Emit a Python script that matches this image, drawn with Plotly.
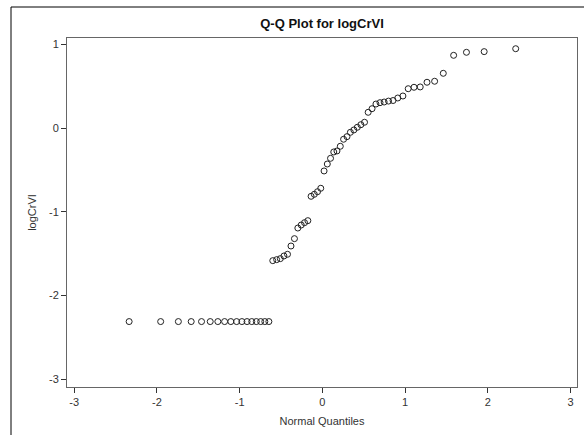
import plotly.graph_objects as go

# Normal quantiles (x) and sorted logCrVI values (y)
normal_quantiles = [
    -2.336, -1.955, -1.741, -1.586, -1.461, -1.356, -1.264, -1.182, -1.107, -1.037,
    -0.973, -0.911, -0.854, -0.799, -0.746, -0.696, -0.647,
    -0.600, -0.553, -0.509, -0.465, -0.422, -0.380, -0.338, -0.297, -0.256, -0.216,
    -0.176, -0.137, -0.098, -0.059, -0.020,
    0.020, 0.059, 0.098, 0.137, 0.176, 0.216, 0.256, 0.297, 0.338, 0.380,
    0.422, 0.465, 0.509, 0.553, 0.600, 0.647, 0.696, 0.746, 0.799, 0.854,
    0.911, 0.973, 1.037, 1.107, 1.182, 1.264, 1.356, 1.461, 1.586, 1.741,
    1.955, 2.336,
]
log_crvi = [
    -2.31, -2.31, -2.31, -2.31, -2.31, -2.31, -2.31, -2.31, -2.31, -2.31,
    -2.31, -2.31, -2.31, -2.31, -2.31, -2.31, -2.31,
    -1.582, -1.570, -1.558, -1.526, -1.506, -1.407, -1.319, -1.192, -1.156, -1.128,
    -1.104, -0.813, -0.789, -0.758, -0.717,
    -0.510, -0.427, -0.359, -0.283, -0.271, -0.215, -0.131, -0.100, -0.048, -0.020,
    0.012, 0.043, 0.072, 0.191, 0.234, 0.290, 0.306, 0.314, 0.325, 0.332,
    0.362, 0.386, 0.473, 0.490, 0.494, 0.550, 0.562, 0.657, 0.872, 0.908,
    0.916, 0.951,
]

x_tick_vals = [-3, -2, -1, 0, 1, 2, 3]
x_tick_text = ["-3", "-2", "-1", "0", "1", "2", "3"]
y_tick_vals = [-3, -2, -1, 0, 1]
y_tick_text = ["-3", "-2", "-1", "0", "1"]

title_text = "Q-Q Plot for logCrVI"
x_title = "Normal Quantiles"
y_title = "logCrVI"

FONT = "Liberation Sans, Arial, sans-serif"

fig = go.Figure()
fig.add_trace(go.Scatter(
    x=normal_quantiles, y=log_crvi, mode="markers",
    marker=dict(symbol="circle-open", size=6, color="#222222", line=dict(width=1, color="#222222")),
    showlegend=False, hoverinfo="x+y",
))

axis_common = dict(
    showgrid=False, zeroline=False, showline=True, mirror=True,
    linecolor="#666666", linewidth=1,
    ticks="outside", ticklen=5, tickwidth=1, tickcolor="#333333",
    tickfont=dict(family=FONT, size=11, color="#333333"),
)

fig.update_layout(
    width=584, height=435,
    margin=dict(l=67, r=7, t=38, b=48),
    paper_bgcolor="white", plot_bgcolor="white",
    font=dict(family=FONT, size=11, color="#333333"),
    title=dict(text="<b>" + title_text + "</b>", x=(67 + 255) / 584, xanchor="center",
               y=1 - 23 / 435, yanchor="middle",
               font=dict(family=FONT, size=13, color="#111111")),
    xaxis=dict(range=[-3.087, 3.077], tickvals=x_tick_vals, ticktext=x_tick_text,
               title=dict(text=x_title, standoff=10, font=dict(family=FONT, size=11, color="#333333")),
               **axis_common),
    yaxis=dict(range=[-3.092, 1.079], tickvals=y_tick_vals, ticktext=y_tick_text,
               title=dict(text=y_title, standoff=10, font=dict(family=FONT, size=11, color="#333333")),
               **axis_common),
)

# outer frame (cropped border) at left and top of the image
fig.add_shape(type="path", xref="paper", yref="paper",
              path="M -0.1098 -0.2 L -0.1098 1.0888 L 1.05 1.0888",
              line=dict(color="black", width=1))

fig.write_html("out.html", config={"displayModeBar": False},
               post_script="document.body.style.margin='0';document.body.style.overflow='hidden';")
